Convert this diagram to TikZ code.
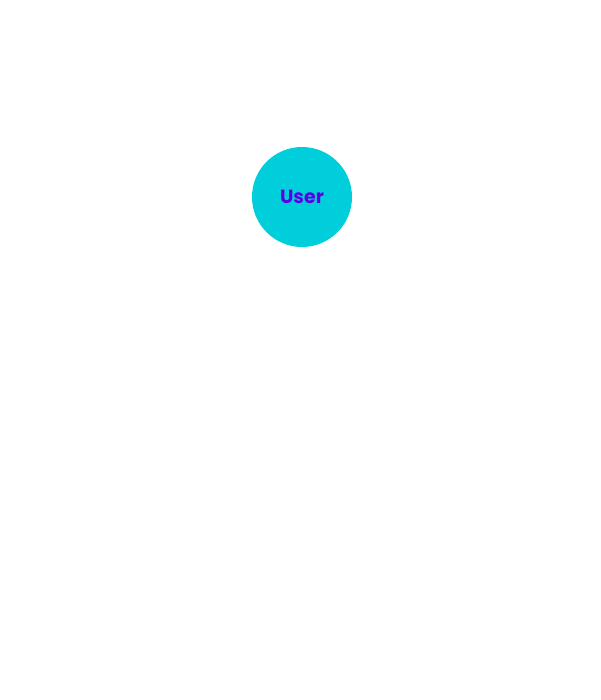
\documentclass[tikz,border=0pt]{standalone}
\usepackage{fontspec}
\setmainfont{Poppins}
\definecolor{usercyan}{HTML}{00CEDB}
\definecolor{userpurple}{HTML}{5B00E6}
\tikzset{usernode/.style={circle,fill=usercyan,draw=none,minimum size=100pt,inner sep=0pt,text=userpurple,font=\fontsize{19pt}{22pt}\selectfont\bfseries}}
\begin{document}
\begin{tikzpicture}[x=1pt,y=-1pt]
\useasboundingbox (0,0) rectangle (600,700);
\node[usernode] (user) at (302,197) {User};
\end{tikzpicture}
\end{document}
